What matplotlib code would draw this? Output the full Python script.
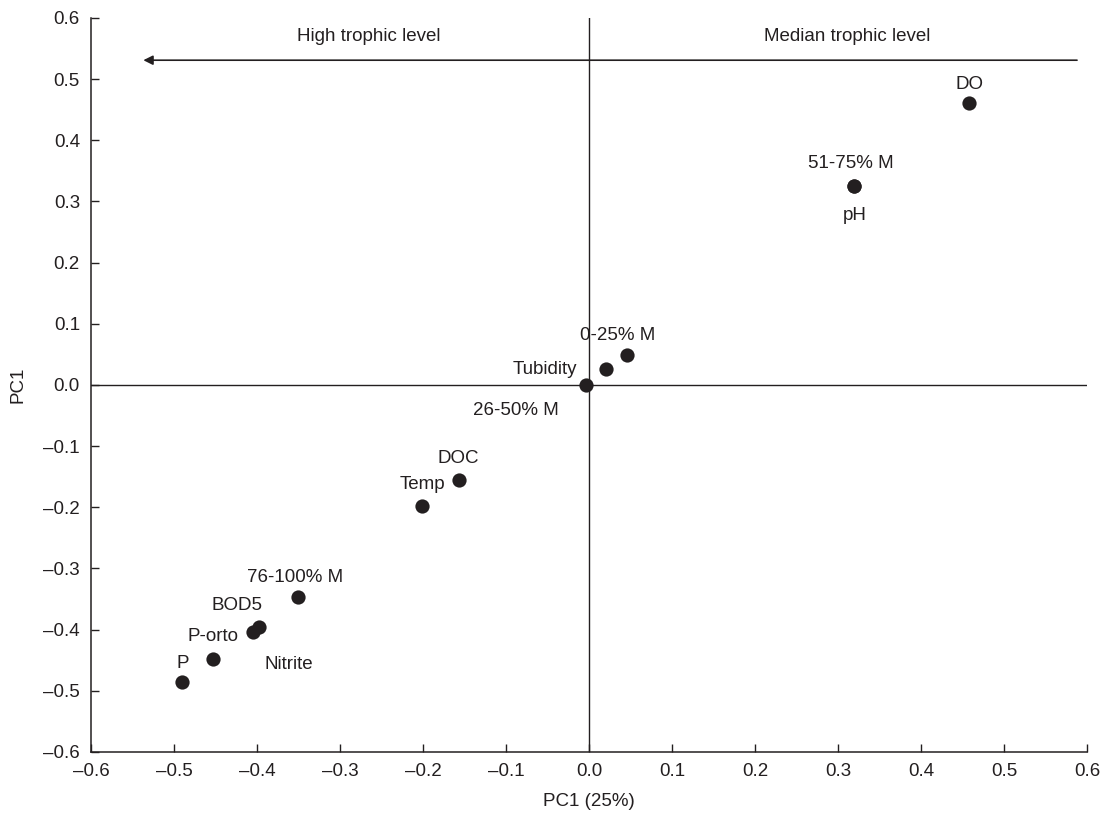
"""
PCA biplot of trophic level variables: loadings of water-quality
parameters and mangrove-cover classes on the first principal component.
"""

import matplotlib

matplotlib.use("Agg")
import matplotlib.pyplot as plt
from matplotlib.ticker import FuncFormatter, MultipleLocator

plt.rcParams.update(
    {
        "font.family": ["Liberation Sans", "DejaVu Sans"],
        "font.size": 13.5,
    }
)

INK = "#231f20"

# variable names and their loadings
labels = [
    "DO", "51-75% M", "pH", "0-25% M", "Tubidity", "26-50% M",
    "DOC", "Temp", "76-100% M", "BOD5", "Nitrite", "P-orto", "P",
]
pc_x = [0.458, 0.319, 0.319, 0.046, 0.020, -0.004,
        -0.157, -0.201, -0.351, -0.398, -0.405, -0.453, -0.490]
pc_y = [0.461, 0.325, 0.325, 0.049, 0.026, 0.000,
        -0.155, -0.198, -0.347, -0.396, -0.404, -0.448, -0.486]

# label placement (pixel offsets from the point, alignment)
label_offsets = {
    "DO": (0, 19, "center"),
    "51-75% M": (-3, 23, "center"),
    "pH": (1, -29, "center"),
    "0-25% M": (-10, 20, "center"),
    "Tubidity": (-28, 0, "right"),
    "26-50% M": (-70, -26, "center"),
    "DOC": (0, 21, "center"),
    "Temp": (0, 22, "center"),
    "76-100% M": (-3, 20, "center"),
    "BOD5": (-22, 22, "center"),
    "Nitrite": (36, -32, "center"),
    "P-orto": (0, 23, "center"),
    "P": (0, 19, "center"),
}

region_labels = ["High trophic level", "Median trophic level"]


def fmt_tick(v, _pos):
    s = f"{abs(v):.1f}"
    return "\u2013" + s if v < -1e-9 else s


fig = plt.figure(figsize=(11.05, 8.18), dpi=100)
ax = fig.add_axes([0.0824, 0.0807, 0.9013, 0.8973])

ax.set_xlim(-0.6, 0.6)
ax.set_ylim(-0.6, 0.6)

# quadrant lines
ax.axhline(0, color=INK, lw=1.0, zorder=1)
ax.axvline(0, color=INK, lw=1.0, zorder=1)

# trophic gradient arrow
ax.annotate(
    "",
    xy=(-0.537, 0.531),
    xytext=(0.588, 0.531),
    arrowprops=dict(arrowstyle="-|>", color=INK, lw=1.2, mutation_scale=14,
                    shrinkA=0, shrinkB=0),
)
ax.text(-0.266, 0.569, region_labels[0], ha="center", va="center", color=INK)
ax.text(0.311, 0.569, region_labels[1], ha="center", va="center", color=INK)

ax.scatter(pc_x, pc_y, s=105, color=INK, zorder=3, linewidths=0)

for name, x, y in zip(labels, pc_x, pc_y):
    dx, dy, ha = label_offsets[name]
    ax.annotate(name, (x, y), xytext=(dx, dy), textcoords="offset pixels",
                ha=ha, va="center", color=INK)

for side in ("top", "right"):
    ax.spines[side].set_visible(False)
for side in ("left", "bottom"):
    ax.spines[side].set_color(INK)
    ax.spines[side].set_linewidth(1.1)

ax.xaxis.set_major_locator(MultipleLocator(0.1))
ax.yaxis.set_major_locator(MultipleLocator(0.1))
ax.xaxis.set_major_formatter(FuncFormatter(fmt_tick))
ax.yaxis.set_major_formatter(FuncFormatter(fmt_tick))
ax.tick_params(direction="in", length=6, width=1.0, color=INK,
               labelcolor=INK, labelsize=13.5, pad=8)

ax.set_xlabel("PC1 (25%)", color=INK, labelpad=9)
ax.set_ylabel("PC1", color=INK, labelpad=12)

fig.savefig("out.png", dpi=100)
